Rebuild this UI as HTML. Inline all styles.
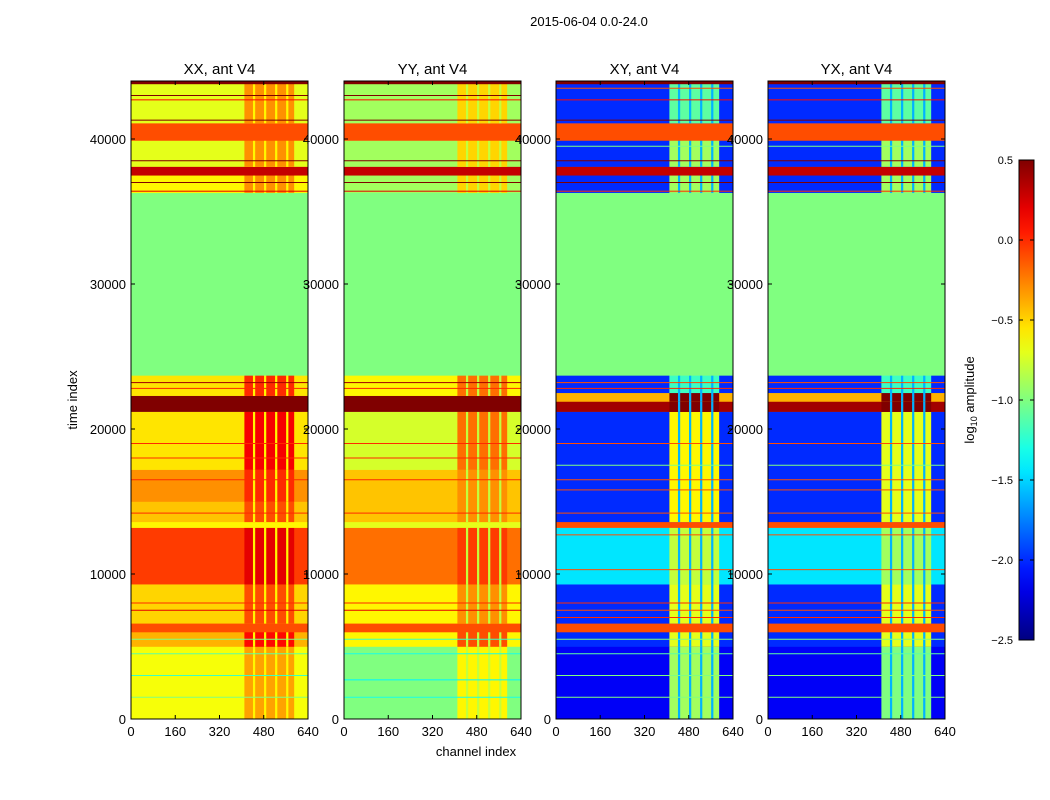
<!DOCTYPE html>
<html><head><meta charset="utf-8"><style>
body{margin:0;background:#fff;}
svg{display:block;font-family:"Liberation Sans","DejaVu Sans",sans-serif;}
</style></head><body>
<svg id="chart" width="1050" height="800" viewBox="0 0 1050 800" xmlns="http://www.w3.org/2000/svg">
<rect width="1050" height="800" fill="#fff"/>
<text x="589" y="26" font-size="13" text-anchor="middle">2015-06-04 0.0-24.0</text>
<text transform="translate(77,400) rotate(-90)" font-size="13" text-anchor="middle">time index</text>
<text x="476" y="756" font-size="13" text-anchor="middle">channel index</text>
<g id="panels"></g>
<g id="cbar"></g>
</svg>
<script>
const panelTitles=["XX, ant V4","YY, ant V4","XY, ant V4","YX, ant V4"];
const xTicks=[0,160,320,480,640];
const yTicks=[0,10000,20000,30000,40000];
const cbTicks=[0.5,0.0,-0.5,-1.0,-1.5,-2.0,-2.5];
const cbLabels=["0.5","0.0","\u22120.5","\u22121.0","\u22121.5","\u22122.0","\u22122.5"];
// bands: [t0,t1,lowChannelValue,highChannelValue]
const bandsXX=[[0,5000,-0.65,-0.35],[5000,6000,-0.4,0.1],[6000,6600,-0.1,-0.1],[6600,9300,-0.5,-0.1],[9300,13200,-0.05,0.2],[13200,13600,-0.6,-0.6],[13600,15000,-0.45,-0.1],[15000,17200,-0.3,0.0],[17200,21200,-0.55,0.15],[21200,22300,0.5,0.5],[22300,23700,-0.55,0.0],[23700,36300,-1.0,-1.0],[36300,37500,-0.6,-0.3],[37500,38100,0.3,0.3],[38100,39900,-0.7,-0.3],[39900,41100,-0.1,-0.1],[41100,43800,-0.7,-0.3],[43800,44000,0.5,0.5]];
const bandsYY=[[0,5000,-1.0,-0.6],[5000,6000,-0.6,-0.1],[6000,6600,-0.1,-0.1],[6600,9300,-0.6,-0.3],[9300,13200,-0.2,-0.05],[13200,13600,-0.7,-0.7],[13600,17200,-0.45,-0.3],[17200,21200,-0.75,-0.2],[21200,22300,0.5,0.5],[22300,23700,-0.6,-0.2],[23700,36300,-1.0,-1.0],[36300,37500,-0.9,-0.5],[37500,38100,0.3,0.3],[38100,39900,-0.9,-0.5],[39900,41100,-0.1,-0.1],[41100,43800,-0.9,-0.5],[43800,44000,0.5,0.5]];
const bandsXY=[[0,5000,-2.15,-0.9],[5000,6000,-2.0,-0.7],[6000,6600,-0.1,-0.1],[6600,9300,-2.0,-0.7],[9300,13200,-1.45,-0.8],[13200,13600,-0.1,-0.1],[13600,21200,-2.0,-0.6],[21200,21900,0.4,0.5],[21900,22500,-0.4,0.5],[22500,23700,-2.0,-1.2],[23700,36300,-1.0,-1.0],[36300,37500,-2.0,-0.9],[37500,38100,0.3,0.3],[38100,39900,-2.0,-0.9],[39900,41100,-0.1,-0.1],[41100,43800,-2.0,-1.1],[43800,44000,0.5,0.5]];
const bandsYX=[[0,5000,-2.15,-1.0],[5000,6000,-2.0,-0.7],[6000,6600,-0.1,-0.1],[6600,9300,-2.0,-0.7],[9300,13200,-1.45,-0.9],[13200,13600,-0.1,-0.1],[13600,21200,-2.0,-0.7],[21200,21900,0.4,0.5],[21900,22500,-0.4,0.5],[22500,23700,-2.0,-1.2],[23700,36300,-1.0,-1.0],[36300,37500,-2.0,-0.9],[37500,38100,0.3,0.3],[38100,39900,-2.0,-0.9],[39900,41100,-0.1,-0.1],[41100,43800,-2.0,-1.1],[43800,44000,0.5,0.5]];
// thin full-width lines: [t,value]
const linesXX=[[1500,-1.0],[3000,-1.2],[4500,-1.1],[5500,-1.0],[7500,0.2],[8000,0.0],[14200,0.0],[16500,0.0],[18000,0.0],[19000,0.0],[22800,0.0],[23200,0.4],[36400,0.2],[37000,0.5],[38500,0.5],[41300,0.5],[42700,0.1],[43000,0.5]];
const linesYY=[[1500,-1.3],[2700,-1.4],[4500,-1.3],[5500,-1.2],[7500,0.2],[8000,0.0],[14200,0.0],[16500,0.0],[18000,0.0],[19000,0.0],[22800,0.0],[23200,0.4],[36400,0.2],[37000,0.5],[38500,0.5],[41300,0.5],[42700,0.1],[43000,0.5]];
const linesXY=[[1500,-1.0],[3000,-1.0],[4500,-1.1],[5500,-1.0],[7000,0.0],[7500,-0.1],[8000,0.0],[10300,-0.1],[12700,-0.1],[14200,-0.1],[15800,-0.1],[16500,-0.1],[19000,-0.1],[17500,-1.0],[22800,0.0],[23200,-0.1],[36400,0.0],[37000,0.5],[38500,0.5],[39500,-1.0],[41300,0.5],[42700,0.1],[43500,-0.1]];
const linesYX=linesXY.slice();
// narrow vertical stripes in the high-channel block: channel centres
const stripeChannels=[445,485,525,565];
const stripeValues=[-0.6,-0.8,-1.6,-1.6];
const highRange=[410,590];

const P={x0:[131,344,556,768],w:177,top:81,bot:719,tmax:44000};
function jet(v){let f=(v+2.5)/3;f=Math.max(0,Math.min(1,f));
 const r=Math.max(0,Math.min(1,Math.min(4*f-1.5,-4*f+4.5)));
 const g=Math.max(0,Math.min(1,Math.min(4*f-0.5,-4*f+3.5)));
 const b=Math.max(0,Math.min(1,Math.min(4*f+0.5,-4*f+2.5)));
 return `rgb(${Math.round(r*255)},${Math.round(g*255)},${Math.round(b*255)})`;}
const NS="http://www.w3.org/2000/svg";
function mk(tag,attrs,parent){const e=document.createElementNS(NS,tag);for(const k in attrs)e.setAttribute(k,attrs[k]);parent.appendChild(e);return e;}
const root=document.getElementById('panels');
const allBands=[bandsXX,bandsYY,bandsXY,bandsYX];
const allLines=[linesXX,linesYY,linesXY,linesYX];
for(let p=0;p<4;p++){
 const x0=P.x0[p];
 const X=c=>x0+c/640*P.w;
 const Y=t=>P.bot-t/P.tmax*(P.bot-P.top);
 const g=mk('g',{},root);
 
 
 for(const b of allBands[p]){
  const y1=Y(b[1]),h=Y(b[0])-y1;
  let r=mk('rect',{x:X(0),y:y1,width:X(640)-X(0),height:h+0.3,fill:jet(b[2])},g);
  
  
  if(b[3]!==b[2]){
   r=mk('rect',{x:X(highRange[0]),y:y1,width:X(highRange[1])-X(highRange[0]),height:h+0.3,fill:jet(b[3])},g);
   
   
   for(const c of stripeChannels){
    r=mk('rect',{x:X(c-4),y:y1,width:X(8)-X(0),height:h+0.3,fill:jet(stripeValues[p])},g);
    
    
   }
  }
 }
 for(const l of allLines[p]){
  const r=mk('rect',{x:X(0),y:Y(l[0])-0.5,width:X(640)-X(0),height:1,fill:jet(l[1])},g);
  
  
 }
 const fr=mk('rect',{x:x0,y:P.top,width:P.w,height:P.bot-P.top,fill:'none',stroke:'#000','stroke-width':1},g);
 
 
 const tt=mk('text',{x:x0+P.w/2,y:74,'font-size':15,'text-anchor':'middle'},g);tt.textContent=panelTitles[p];
 
 
 for(const t of xTicks){
  mk('line',{x1:X(t),x2:X(t),y1:P.bot,y2:P.bot-4,stroke:'#000'},g);
  mk('line',{x1:X(t),x2:X(t),y1:P.top,y2:P.top+4,stroke:'#000'},g);
  const tx=mk('text',{x:X(t),y:P.bot+17,'font-size':13,'text-anchor':'middle'},g);tx.textContent=t;
  
  
 }
 for(const t of yTicks){
  mk('line',{x1:x0,x2:x0+4,y1:Y(t),y2:Y(t),stroke:'#000'},g);
  mk('line',{x1:x0+P.w,x2:x0+P.w-4,y1:Y(t),y2:Y(t),stroke:'#000'},g);
  const ty=mk('text',{x:x0-5,y:Y(t)+5,'font-size':13,'text-anchor':'end'},g);ty.textContent=t;
  
  
 }
}
// colorbar
const cb=document.getElementById('cbar');


const CB={x:1019,w:15,top:160,bot:640};
const CY=v=>CB.top+(0.5-v)/3*(CB.bot-CB.top);
const defs=mk('defs',{},cb);const lg=mk('linearGradient',{id:'jetg',x1:0,y1:1,x2:0,y2:0},defs);
for(let i=0;i<=20;i++){mk('stop',{offset:i/20,'stop-color':jet(-2.5+3*i/20)},lg);}
mk('rect',{x:CB.x,y:CB.top,width:CB.w,height:CB.bot-CB.top,fill:'url(#jetg)',stroke:'#000'},cb);
cbTicks.forEach((v,i)=>{
 mk('line',{x1:CB.x,x2:CB.x+4,y1:CY(v),y2:CY(v),stroke:'#000'},cb);
 mk('line',{x1:CB.x+CB.w,x2:CB.x+CB.w-4,y1:CY(v),y2:CY(v),stroke:'#000'},cb);
 const t=mk('text',{x:CB.x-6,y:CY(v)+4,'font-size':11,'text-anchor':'end'},cb);t.textContent=cbLabels[i];
 
 
});
const cl=mk('text',{transform:'translate(974,400) rotate(-90)','font-size':13,'text-anchor':'middle'},cb);
cl.innerHTML='log<tspan font-size="9" dy="3">10</tspan><tspan dy="-3"> amplitude</tspan>';


</script>
</body></html>
